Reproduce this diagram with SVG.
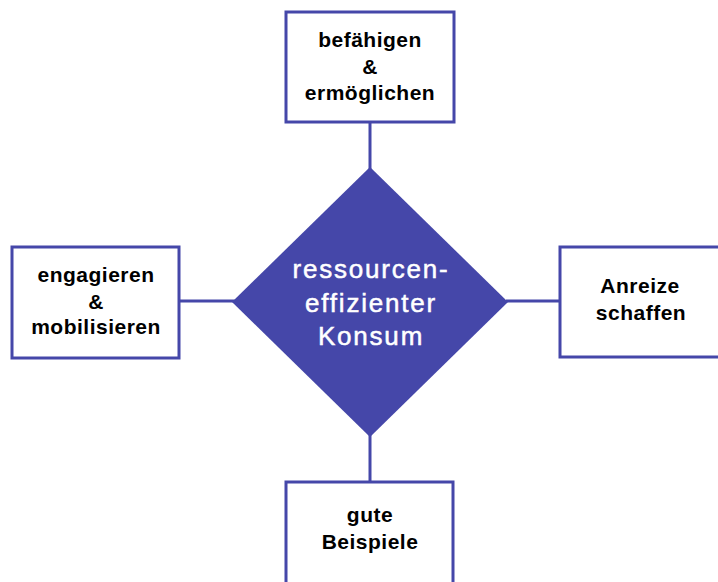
<svg xmlns="http://www.w3.org/2000/svg" width="718" height="582" viewBox="0 0 718 582">
<style>
.box{fill:#fff;stroke:#4547a9;stroke-width:3}
.line{stroke:#4547a9;stroke-width:3;fill:none}
.t{font-family:"Liberation Sans",Arial,sans-serif;font-weight:bold;font-size:21px;letter-spacing:0.5px;text-anchor:middle;fill:#000}
.c{font-family:"Liberation Sans",Arial,sans-serif;font-size:26px;letter-spacing:1.8px;text-anchor:middle;fill:#fff;stroke:#fff;stroke-width:0.5}
</style>
<rect width="718" height="582" fill="#fff"/>
<g id="connectors">
<line class="line" x1="370" y1="122" x2="370" y2="170"/>
<line class="line" x1="179" y1="301" x2="235" y2="301"/>
<line class="line" x1="506" y1="301" x2="560" y2="301"/>
<line class="line" x1="370" y1="434" x2="370" y2="482"/>
</g>
<g id="center">
<polygon points="370,167 508,302 370,437 232,302" fill="#4547a9"/>
<text class="c" x="371" y="278">ressourcen-</text>
<text class="c" x="371" y="312">effizienter</text>
<text class="c" x="371" y="345">Konsum</text>
</g>
<g id="top">
<rect class="box" x="286" y="12" width="168" height="110"/>
<text class="t" x="370" y="47">befähigen</text>
<text class="t" x="370" y="74">&amp;</text>
<text class="t" x="370" y="100">ermöglichen</text>
</g>
<g id="left">
<rect class="box" x="12" y="247" width="167" height="111"/>
<text class="t" x="96" y="282">engagieren</text>
<text class="t" x="96" y="309">&amp;</text>
<text class="t" x="96" y="334">mobilisieren</text>
</g>
<g id="right">
<rect class="box" x="560" y="247" width="170" height="110"/>
<text class="t" x="640" y="293">Anreize</text>
<text class="t" x="641" y="320">schaffen</text>
</g>
<g id="bottom">
<rect class="box" x="286" y="482" width="167" height="110"/>
<text class="t" x="370" y="522">gute</text>
<text class="t" x="370" y="549">Beispiele</text>
</g>
</svg>
